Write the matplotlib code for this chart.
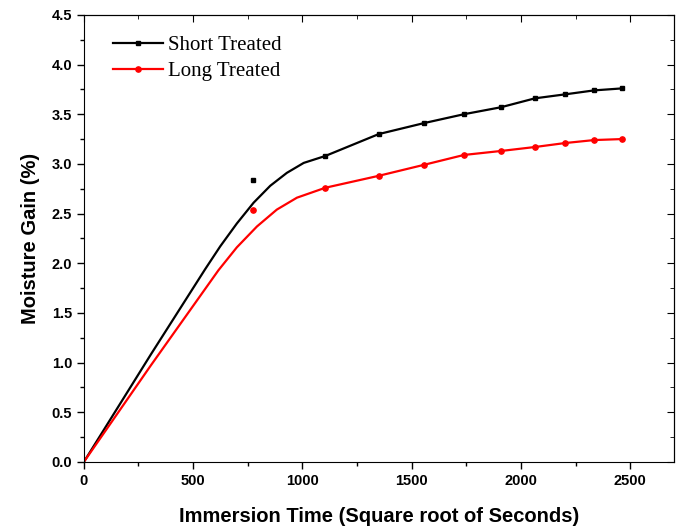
import matplotlib.pyplot as plt
from matplotlib.ticker import MultipleLocator, NullFormatter

# measured points
time_pts = [775, 1105, 1349, 1555, 1739, 1908, 2064, 2202, 2335, 2463]
short_pts = [2.84, 3.08, 3.30, 3.41, 3.50, 3.57, 3.66, 3.70, 3.74, 3.76]
long_pts = [2.54, 2.76, 2.88, 2.99, 3.09, 3.13, 3.17, 3.21, 3.24, 3.25]

# fitted curves (early part), then through the points
short_fit_x = [0, 306, 555, 624, 700, 777, 853, 929, 1006, 1105, 1349, 1555, 1739, 1908, 2064, 2202, 2335, 2463]
short_fit_y = [0, 1.08, 1.94, 2.17, 2.40, 2.61, 2.78, 2.91, 3.01, 3.08, 3.30, 3.41, 3.50, 3.57, 3.66, 3.70, 3.74, 3.76]
long_fit_x = [0, 306, 616, 700, 792, 883, 975, 1105, 1349, 1555, 1739, 1908, 2064, 2202, 2335, 2463]
long_fit_y = [0, 0.97, 1.93, 2.16, 2.37, 2.54, 2.66, 2.76, 2.88, 2.99, 3.09, 3.13, 3.17, 3.21, 3.24, 3.25]

plt.rcParams['font.family'] = ['Liberation Sans', 'DejaVu Sans']
fig = plt.figure(figsize=(6.76, 5.31), dpi=100)
ax = fig.add_axes([0.124, 0.130, 0.873, 0.842])

ax.plot(short_fit_x, short_fit_y, color='black', lw=1.6)
ax.plot(long_fit_x, long_fit_y, color='red', lw=1.6)
ax.plot(time_pts, short_pts, 's', color='black', ms=3.5)
ax.plot(time_pts, long_pts, 'o', color='red', ms=3.8)

# legend handles
ax.plot([], [], 's-', color='black', lw=1.6, ms=3.5, label='Short Treated')
ax.plot([], [], 'o-', color='red', lw=1.6, ms=3.8, label='Long Treated')
ax.legend(loc='upper left', bbox_to_anchor=(0.035, 0.972), borderaxespad=0, frameon=False,
          prop={'family': 'Liberation Serif', 'size': 15},
          handlelength=2.4, handletextpad=0.25, labelspacing=0.3)

ax.set_xlim(0, 2700)
ax.set_ylim(0, 4.5)
ax.xaxis.set_major_locator(MultipleLocator(500))
ax.xaxis.set_minor_locator(MultipleLocator(250))
ax.yaxis.set_major_locator(MultipleLocator(0.5))
ax.yaxis.set_minor_locator(MultipleLocator(0.25))
ax.yaxis.set_major_formatter(plt.FormatStrFormatter('%.1f'))
ax.tick_params(which='both', direction='out', top=False, right=False, width=1)
ax.tick_params(which='major', length=5, labelsize=10.5)
ax.tick_params(which='minor', length=3)
for lab in ax.get_xticklabels() + ax.get_yticklabels():
    lab.set_fontweight('bold')

# inward ticks on top and right, no labels
top = ax.secondary_xaxis('top')
top.xaxis.set_major_locator(MultipleLocator(500))
top.xaxis.set_minor_locator(MultipleLocator(250))
top.xaxis.set_major_formatter(NullFormatter())
top.tick_params(which='both', direction='in', length=5)
top.tick_params(which='minor', length=3)
right = ax.secondary_yaxis('right')
right.yaxis.set_major_locator(MultipleLocator(0.5))
right.yaxis.set_minor_locator(MultipleLocator(0.25))
right.yaxis.set_major_formatter(NullFormatter())
right.tick_params(which='both', direction='in', length=5)
right.tick_params(which='minor', length=3)

ax.set_xlabel('Immersion Time (Square root of Seconds)', fontsize=14.5, fontweight='bold', labelpad=14)
ax.set_ylabel('Moisture Gain (%)', fontsize=14.5, fontweight='bold', labelpad=8)

plt.savefig('out.png', dpi=100)
